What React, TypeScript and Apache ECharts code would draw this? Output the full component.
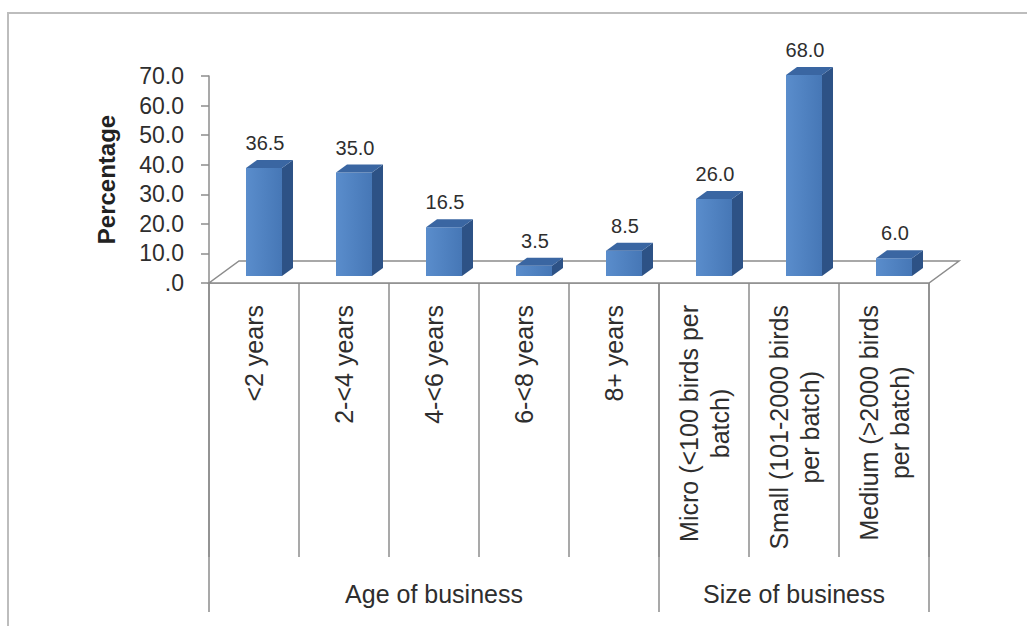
import React, { useEffect, useRef } from 'react';
import * as echarts from 'echarts';

const categories: string[] = [
  '<2 years',
  '2-<4 years',
  '4-<6 years',
  '6-<8 years',
  '8+ years',
  'Micro (<100 birds per\nbatch)',
  'Small (101-2000 birds\nper batch)',
  'Medium (>2000 birds\nper batch)',
];
const values: number[] = [36.5, 35.0, 16.5, 3.5, 8.5, 26.0, 68.0, 6.0];
const groupNames: string[] = ['Age of business', 'Size of business'];
const groupSizes: number[] = [5, 3];
const yMin = 0;
const yMax = 70;
const yStep = 10;
const yTitle = 'Percentage';

export default function App() {
  const ref = useRef<HTMLDivElement>(null);

  useEffect(() => {
    if (!ref.current) return;
    const chart = echarts.init(ref.current, null, { renderer: 'svg' });

    const font = '"Liberation Sans", Arial, sans-serif';
    const textColor = '#2e2e2e';
    const axisColor = '#8c8c8c';

    const groupStarts: number[] = [];
    let acc = 0;
    groupSizes.forEach((s) => {
      groupStarts.push(acc);
      acc += s;
    });
    const groupLabelAt: Record<number, string> = {};
    groupSizes.forEach((s, i) => {
      groupLabelAt[groupStarts[i] + Math.floor(s / 2)] = groupNames[i];
    });

    const barShift = [10, -7];
    const barDepth = [11, -8];
    const floorDepth = [30, -22];

    const frontFill = new echarts.graphic.LinearGradient(0, 0, 1, 0, [
      { offset: 0, color: '#5a8dcc' },
      { offset: 1, color: '#4677b6' },
    ]);

    const option: any = {
      animation: false,
      backgroundColor: '#ffffff',
      graphic: [
        {
          type: 'rect',
          silent: true,
          shape: { x: 8, y: 13, width: 1100, height: 700 },
          style: { fill: 'none', stroke: '#bdbdbd', lineWidth: 2 },
        },
      ],
      grid: {
        left: 209,
        right: 98,
        top: 76,
        bottom: 343,
        containLabel: false,
        outerBoundsMode: 'none',
      },
      xAxis: [
        {
          type: 'category',
          data: categories,
          position: 'bottom',
          boundaryGap: true,
          axisLine: { show: true, lineStyle: { color: axisColor, width: 1.5 } },
          axisTick: {
            show: true,
            interval: 0,
            length: 274,
            lineStyle: { color: axisColor, width: 1.5 },
          },
          axisLabel: {
            interval: 0,
            rotate: 90,
            margin: 22,
            hideOverlap: false,
            formatter: (val: string) =>
              val
                .split('\n')
                .map((s) => `{c|${s}}`)
                .join('\n'),
            rich: {
              c: {
                align: 'center',
                fontSize: 25,
                lineHeight: 31,
                fontFamily: font,
                color: textColor,
              },
            },
          },
          splitLine: { show: false },
        },
        {
          type: 'category',
          data: categories,
          position: 'bottom',
          offset: 0,
          boundaryGap: true,
          axisLine: { show: false },
          axisTick: {
            show: true,
            interval: (index: number) => groupStarts.indexOf(index) >= 0,
            length: 329,
            lineStyle: { color: axisColor, width: 1.5 },
          },
          axisLabel: {
            interval: 0,
            margin: 298,
            hideOverlap: false,
            verticalAlign: 'top',
            fontSize: 25,
            fontFamily: font,
            color: textColor,
            formatter: (_val: string, index: number) => groupLabelAt[index] || '',
          },
          splitLine: { show: false },
        },
      ],
      yAxis: {
        type: 'value',
        min: yMin,
        max: yMax,
        interval: yStep,
        name: yTitle,
        nameLocation: 'middle',
        nameGap: 91,
        nameTextStyle: {
          fontSize: 24,
          fontWeight: 'bold',
          fontFamily: font,
          color: '#222',
        },
        axisLine: { show: true, lineStyle: { color: axisColor, width: 1.5 } },
        axisTick: { show: true, length: 8, lineStyle: { color: axisColor, width: 1.5 } },
        axisLabel: {
          margin: 25,
          fontSize: 23,
          fontFamily: font,
          color: textColor,
          formatter: (v: number) => (v === 0 ? '.0' : v.toFixed(1)),
        },
        splitLine: { show: false },
      },
      series: [
        {
          type: 'custom',
          name: 'floor',
          xAxisIndex: 0,
          clip: false,
          z: 1,
          silent: true,
          data: [[0, 0]],
          encode: { x: 0, y: 1 },
          renderItem: (params: any) => {
            const cs = params.coordSys;
            const x0 = cs.x;
            const x1 = cs.x + cs.width;
            const y0 = cs.y + cs.height;
            return {
              type: 'polygon',
              shape: {
                points: [
                  [x0, y0],
                  [x1, y0],
                  [x1 + floorDepth[0], y0 + floorDepth[1]],
                  [x0 + floorDepth[0], y0 + floorDepth[1]],
                ],
              },
              style: { fill: '#ffffff', stroke: axisColor, lineWidth: 1.5 },
            };
          },
        },
        {
          type: 'custom',
          name: 'Percentage',
          xAxisIndex: 0,
          clip: false,
          z: 3,
          data: values.map((v, i) => [i, v]),
          encode: { x: 0, y: 1 },
          renderItem: (_params: any, api: any) => {
            const idx = api.value(0);
            const v = api.value(1);
            const base = api.coord([idx, 0]);
            const top = api.coord([idx, v]);
            const band = api.size([1, 0])[0];
            const w = band * 0.4;
            const L = base[0] + barShift[0] - w / 2;
            const R = L + w;
            const yb = base[1] + barShift[1];
            const yt = top[1] + barShift[1];
            const dx = barDepth[0];
            const dy = barDepth[1];
            return {
              type: 'group',
              children: [
                {
                  type: 'polygon',
                  shape: {
                    points: [
                      [R, yt],
                      [R + dx, yt + dy],
                      [R + dx, yb + dy],
                      [R, yb],
                    ],
                  },
                  style: { fill: '#2d5286' },
                },
                {
                  type: 'rect',
                  shape: { x: L, y: yt, width: w, height: yb - yt },
                  style: { fill: frontFill },
                },
                {
                  type: 'polygon',
                  shape: {
                    points: [
                      [L, yt],
                      [L + dx, yt + dy],
                      [R + dx, yt + dy],
                      [R, yt],
                    ],
                  },
                  style: { fill: '#3a66a2' },
                },
                {
                  type: 'text',
                  x: (L + R) / 2 + 1,
                  y: yt + dy - 7,
                  style: {
                    text: v.toFixed(1),
                    fontSize: 20,
                    fontFamily: font,
                    fill: textColor,
                    align: 'center',
                    verticalAlign: 'bottom',
                  },
                },
              ],
            };
          },
        },
      ],
    };

    chart.setOption(option);
    return () => {
      chart.dispose();
    };
  }, []);

  return (
    <div
      ref={ref}
      style={{ position: 'fixed', left: 0, top: 0, width: 1027, height: 626, background: '#fff' }}
    />
  );
}
